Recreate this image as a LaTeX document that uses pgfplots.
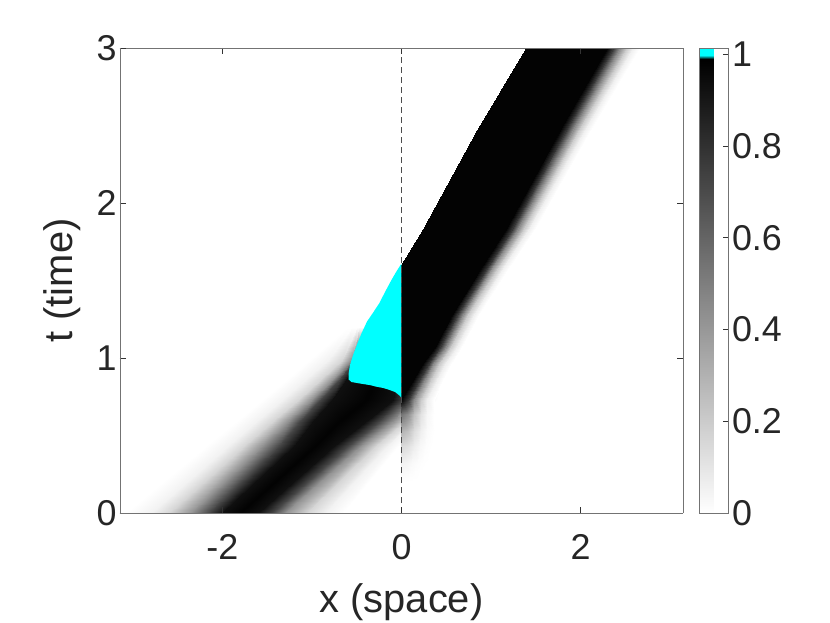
\documentclass[border=0pt]{standalone}
\usepackage{fontspec}
\setmainfont{Liberation Sans}
\usepackage{pgfplots}
\pgfplotsset{compat=1.18}
\usepackage{pgfplotstable}
\definecolor{aqua}{RGB}{0,255,255}

% left travelling band (rows of constant t, x varies)
\pgfplotstableread{
x t v
-3.07 0 0
-2.80 0 0.05
-2.60 0 0.16
-2.35 0 0.42
-2.15 0 0.72
-2.00 0 0.93
-1.80 0 0.98
-1.60 0 0.93
-1.45 0 0.72
-1.30 0 0.42
-1.05 0 0.16
-0.85 0 0.05
-0.65 0 0
-2.18 0.43 0
-1.94 0.43 0.05
-1.755 0.43 0.16
-1.56 0.43 0.42
-1.37 0.43 0.72
-1.20 0.43 0.93
-0.97 0.43 0.98
-0.75 0.43 0.93
-0.60 0.43 0.72
-0.45 0.43 0.42
-0.28 0.43 0.16
-0.15 0.43 0.05
-0.03 0.43 0
-1.83 0.60 0
-1.60 0.60 0.05
-1.42 0.60 0.16
-1.25 0.60 0.42
-1.12 0.60 0.72
-0.98 0.60 0.93
-0.67 0.60 0.98
-0.37 0.60 0.93
-0.23 0.60 0.72
-0.07 0.60 0.42
0.06 0.60 0.16
0.14 0.60 0.05
0.21 0.60 0
-1.56 0.73 0
-1.33 0.73 0.05
-1.16 0.73 0.16
-1.01 0.73 0.42
-0.91 0.73 0.72
-0.78 0.73 0.93
-0.40 0.73 0.98
-0.10 0.73 0.93
0.02 0.73 0.72
0.12 0.73 0.42
0.22 0.73 0.16
0.30 0.73 0.05
0.40 0.73 0
-1.29 0.86 0
-1.075 0.86 0.05
-0.91 0.86 0.16
-0.77 0.86 0.42
-0.70 0.86 0.72
-0.62 0.86 0.93
-0.30 0.86 0.98
-0.05 0.86 0.93
0.05 0.86 0.72
0.15 0.86 0.42
0.25 0.86 0.16
0.35 0.86 0.05
0.45 0.86 0
-1.03 0.987 0
-0.82 0.987 0.05
-0.66 0.987 0.16
-0.56 0.987 0.42
-0.52 0.987 0.72
-0.48 0.987 0.93
-0.30 0.987 0.98
-0.05 0.987 0.93
0.05 0.987 0.72
0.15 0.987 0.42
0.25 0.987 0.16
0.35 0.987 0.05
0.45 0.987 0
-0.60 1.20 0
-0.55 1.20 0
-0.50 1.20 0
-0.47 1.20 0
-0.44 1.20 0
-0.41 1.20 0
-0.30 1.20 0
-0.05 1.20 0
0.05 1.20 0
0.15 1.20 0
0.25 1.20 0
0.35 1.20 0
0.45 1.20 0
}\leftband

% right travelling band
\pgfplotstableread{
x t v
0.00 0.20 0
0.00 0.20 0
0.04 0.20 0
0.08 0.20 0
0.12 0.20 0
0.16 0.20 0
0.20 0.20 0
0.00 0.32 0.05
0.00 0.32 0.05
0.06 0.32 0.04
0.12 0.32 0.022
0.18 0.32 0.01
0.24 0.32 0.003
0.30 0.32 0
0.00 0.43 0.15
0.00 0.43 0.15
0.068 0.43 0.12
0.136 0.43 0.068
0.204 0.43 0.03
0.272 0.43 0.009
0.34 0.43 0
0.00 0.53 0.3
0.00 0.53 0.3
0.072 0.53 0.24
0.144 0.53 0.135
0.216 0.53 0.06
0.288 0.53 0.018
0.36 0.53 0
0.00 0.64 0.55
0.00 0.64 0.55
0.072 0.64 0.44
0.144 0.64 0.25
0.216 0.64 0.11
0.288 0.64 0.033
0.36 0.64 0
0.00 0.73 0.98
0.00 0.73 0.98
0.072 0.73 0.784
0.144 0.73 0.441
0.216 0.73 0.196
0.288 0.73 0.059
0.36 0.73 0
0.00 0.86 0.98
0.13 0.86 0.98
0.196 0.86 0.784
0.262 0.86 0.441
0.328 0.86 0.196
0.394 0.86 0.059
0.46 0.86 0
0.00 0.97 0.98
0.24 0.97 0.98
0.304 0.97 0.784
0.368 0.97 0.441
0.432 0.97 0.196
0.496 0.97 0.059
0.56 0.97 0
0.00 1.07 0.98
0.37 1.07 0.98
0.432 1.07 0.784
0.494 1.07 0.441
0.556 1.07 0.196
0.618 1.07 0.059
0.68 1.07 0
0.00 1.29 0.98
0.57 1.29 0.98
0.632 1.29 0.784
0.694 1.29 0.441
0.756 1.29 0.196
0.818 1.29 0.059
0.88 1.29 0
0.00 1.60 0.98
0.91 1.60 0.98
0.972 1.60 0.784
1.034 1.60 0.441
1.096 1.60 0.196
1.158 1.60 0.059
1.22 1.60 0
0.24 1.83 0.98
1.17 1.83 0.98
1.234 1.83 0.784
1.298 1.83 0.441
1.362 1.83 0.196
1.426 1.83 0.059
1.49 1.83 0
0.84 2.47 0.98
1.77 2.47 0.98
1.84 2.47 0.784
1.91 2.47 0.441
1.98 2.47 0.196
2.05 2.47 0.059
2.12 2.47 0
1.39 3.00 0.98
2.29 3.00 0.98
2.364 3.00 0.784
2.438 3.00 0.441
2.512 3.00 0.196
2.586 3.00 0.059
2.66 3.00 0
}\rightband

% region where u exceeds 1 (drawn cyan)
\pgfplotstableread{
x t z
0 1.61 1
-0.06 1.555 1
-0.115 1.50 1
-0.18 1.43 1
-0.246 1.355 1
-0.32 1.29 1
-0.385 1.235 1
-0.445 1.16 1
-0.49 1.097 1
-0.54 1.02 1
-0.575 0.955 1
-0.59 0.90 1
-0.59 0.862 1
-0.56 0.845 1
-0.45 0.834 1
-0.35 0.825 1
-0.283 0.815 1
-0.2 0.806 1
-0.134 0.794 1
-0.07 0.78 1
-0.022 0.758 1
0 0.742 1
}\overshoot

\begin{document}
\begin{tikzpicture}
\useasboundingbox (-120bp,-110bp) rectangle (710bp,513bp);
\begin{axis}[
  at={(0,0)}, anchor=south west,
  view={0}{90},
  scale only axis, width=563bp, height=465bp,
  xmin=-3.14159, xmax=3.14159, ymin=0, ymax=3,
  xtick={-2,0,2}, ytick={0,1,2,3}, ztick=\empty,
  tick align=inside,
  major tick length=6bp,
  tick style={black!80, line width=0.6bp},
  axis line style={black!55, line width=0.8bp},
  /pgf/number format/assume math mode=true,
  ticklabel style={font=\fontsize{36}{40}\selectfont, text=black!85},
  xticklabel style={yshift=-18bp},
  label style={font=\fontsize{40}{46}\selectfont, text=black!85},
  xlabel={x (space)}, ylabel={t (time)},
  xlabel style={at={(axis description cs:0.5,-0.1914)}, anchor=center},
  ylabel style={at={(axis description cs:-0.102,0.5)}, anchor=center},
  colormap={bwc}{rgb255(0pt)=(255,255,255) rgb255(125pt)=(0,0,0) rgb255(126pt)=(0,255,255) rgb255(128pt)=(0,255,255)},
  point meta min=0, point meta max=1.0136,
  colorbar,
  colorbar style={
    at={(parent axis.north east)}, anchor=north west, xshift=8bp,
    scale only axis, width=29bp, height=465bp,
    ytick={0,0.2,0.4,0.6,0.8,1},
    ytick pos=right, yticklabel pos=right,
    tick align=inside, major tick length=5bp,
    tick style={black!80, line width=0.6bp},
    axis line style={black!55, line width=0.8bp},
    /pgf/number format/assume math mode=true,
    yticklabel style={font=\fontsize{36}{40}\selectfont, text=black!85},
  },
  axis on top,
]
\addplot3[surf, shader=interp, mesh/cols=13, point meta=explicit]
  table[x=x, y=t, z=v, meta=v] {\leftband};
\addplot3[surf, shader=interp, mesh/cols=7, point meta=explicit]
  table[x=x, y=t, z=v, meta=v] {\rightband};
\addplot3[fill=aqua, draw=none] table[x=x, y=t, z=z] {\overshoot} -- cycle;
\addplot3[black!70, line width=0.8bp, dash pattern=on 6bp off 4bp]
  coordinates {(0,0,1) (0,3,1)};
\end{axis}
\end{tikzpicture}
\end{document}
